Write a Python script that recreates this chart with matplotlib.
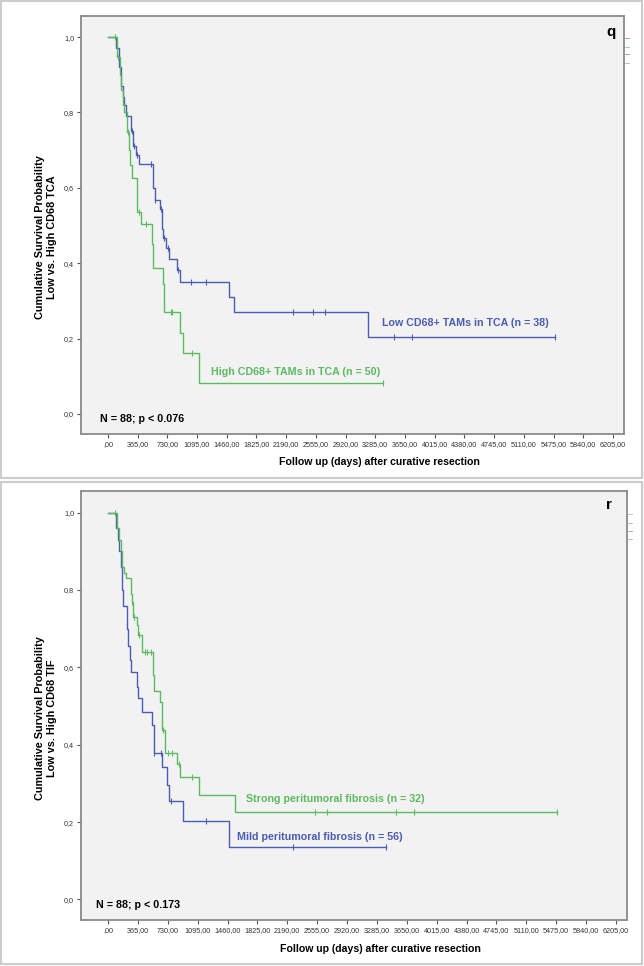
# Kaplan-Meier curves for CD68+ TAMs (TCA) and peritumoral fibrosis (TIF)

import numpy as np
import matplotlib.pyplot as plt
from matplotlib.patches import Rectangle
from matplotlib.lines import Line2D

plt.rcParams['font.family'] = ['Liberation Sans', 'DejaVu Sans']

BLUE = '#4a5cb3'
GREEN = '#5cba60'

# x axis ticks (days) and their SPSS style labels
day_ticks = [0, 365, 730, 1095, 1460, 1825, 2190, 2555, 2920, 3285, 3650,
             4015, 4380, 4745, 5110, 5475, 5840, 6205]
day_labels = [',00'] + ['%d,00' % d for d in day_ticks[1:]]
surv_ticks = [0.0, 0.2, 0.4, 0.6, 0.8, 1.0]
surv_labels = ['0,0', '0,2', '0,4', '0,6', '0,8', '1,0']

# panel q: low vs high CD68+ TAMs in TCA
tca_low_t = [0, 94, 139, 160, 180, 197, 221, 290, 311, 345, 380, 557, 574,
             640, 665, 676, 720, 745, 850, 880, 1487, 1553, 3191]
tca_low_s = [1.0, 0.97, 0.92, 0.87, 0.84, 0.82, 0.79, 0.75, 0.71, 0.687, 0.663,
             0.60, 0.569, 0.543, 0.49, 0.466, 0.44, 0.41, 0.382, 0.349, 0.311,
             0.271, 0.205]
tca_low_cens = [299, 320, 352, 525, 578, 648, 684, 741, 864, 1020, 1200,
                2270, 2523, 2670, 3515, 3740, 5498]

tca_high_t = [0, 115, 150, 165, 185, 200, 235, 260, 275, 291, 352, 362, 402,
              540, 549, 555, 672, 692, 885, 917, 1123]
tca_high_s = [1.0, 0.947, 0.90, 0.86, 0.82, 0.80, 0.747, 0.70, 0.66, 0.626,
              0.56, 0.537, 0.504, 0.45, 0.427, 0.388, 0.346, 0.271, 0.216,
              0.163, 0.082]
tca_high_cens = [86, 127, 242, 381, 467, 775, 790, 1036, 3384]

# panel r: mild vs strong peritumoral fibrosis
tif_mild_t = [0, 98, 126, 138, 155, 167, 179, 228, 244, 269, 281, 358, 370,
              411, 541, 562, 655, 716, 749, 920, 1481]
tif_mild_s = [1.0, 0.96, 0.93, 0.90, 0.86, 0.80, 0.76, 0.70, 0.655, 0.62,
              0.589, 0.55, 0.52, 0.485, 0.45, 0.38, 0.343, 0.295, 0.255, 0.203,
              0.135]
tif_mild_cens = [566, 648, 765, 1193, 2263, 3390]

tif_strong_t = [0, 114, 138, 155, 171, 195, 220, 281, 290, 309, 350, 370, 411,
                545, 566, 640, 660, 696, 846, 883, 1115, 1551]
tif_strong_s = [1.0, 0.96, 0.93, 0.90, 0.86, 0.845, 0.83, 0.79, 0.77, 0.73,
                0.71, 0.685, 0.64, 0.58, 0.54, 0.511, 0.438, 0.38, 0.351,
                0.317, 0.27, 0.225]
tif_strong_cens = [85, 297, 322, 383, 455, 476, 521, 675, 736, 777, 867, 1022,
                   2527, 2678, 3516, 3744, 5490]


def km_line(ax, t, s, cens, color):
    end = max(cens)
    ax.step(list(t) + [end], list(s) + [s[-1]], where='post', color=color, lw=1.0)
    idx = np.searchsorted(t, cens, side='right') - 1
    ax.plot(cens, np.array(s)[idx], ls='none', marker='|', ms=5, mew=0.8,
            color=color)


def style_axis(ax, ylabel):
    ax.set_facecolor('#f2f2f2')
    ax.set_xlim(-330, 6340)
    ax.set_ylim(-0.053, 1.056)
    ax.set_xticks(day_ticks)
    ax.set_xticklabels(day_labels)
    ax.set_yticks(surv_ticks)
    ax.set_yticklabels(surv_labels)
    for sp in ax.spines.values():
        sp.set_color('#8a8a8a')
        sp.set_linewidth(1.3)
    ax.tick_params(direction='out', length=3, width=0.8, color='#555555',
                   labelsize=5.2, labelcolor='#333333', pad=2)
    ax.text(-0.064, 0.471, ylabel, rotation=90, ha='center', va='center',
            multialignment='center', linespacing=1.2, fontsize=7.8,
            fontweight='bold', transform=ax.transAxes)
    ax.text(0.549, -0.067, 'Follow up (days) after curative resection',
            ha='center', va='center', fontsize=7.6, fontweight='bold',
            transform=ax.transAxes)


fig = plt.figure(figsize=(6.44, 9.66), dpi=100, facecolor='white')

# outer panel frames
fig.add_artist(Rectangle((1 / 644, 1 - 478 / 966), 641 / 644, 477 / 966,
                         transform=fig.transFigure, fill=False,
                         edgecolor='#cccccc', lw=1.5))
fig.add_artist(Rectangle((1 / 644, 1 - 964 / 966), 641 / 644, 482 / 966,
                         transform=fig.transFigure, fill=False,
                         edgecolor='#cccccc', lw=1.5))

ax1 = fig.add_axes([81 / 644, 1 - 434 / 966, 543 / 644, 418 / 966])
ax2 = fig.add_axes([81 / 644, 1 - 920 / 966, 546 / 644, 429 / 966])

km_line(ax1, tca_low_t, tca_low_s, tca_low_cens, BLUE)
km_line(ax1, tca_high_t, tca_high_s, tca_high_cens, GREEN)
style_axis(ax1, 'Cumulative Survival Probability\nLow vs. High CD68 TCA')
ax1.text(3371, 0.242, 'Low CD68+ TAMs in TCA (n = 38)', color=BLUE,
         fontsize=7.7, fontweight='bold', va='center')
ax1.text(1262, 0.112, 'High CD68+ TAMs in TCA (n = 50)', color=GREEN,
         fontsize=7.7, fontweight='bold', va='center')
ax1.text(-98, -0.013, 'N = 88; p < 0.076', fontsize=7.7, fontweight='bold',
         va='center')
ax1.text(6182, 1.014, 'q', fontsize=11, fontweight='bold', ha='center',
         va='center')

km_line(ax2, tif_mild_t, tif_mild_s, tif_mild_cens, BLUE)
km_line(ax2, tif_strong_t, tif_strong_s, tif_strong_cens, GREEN)
style_axis(ax2, 'Cumulative Survival Probability\nLow vs. High CD68 TIF')
ax2.text(1685, 0.261, 'Strong peritumoral fibrosis (n = 32)', color=GREEN,
         fontsize=7.7, fontweight='bold', va='center')
ax2.text(1571, 0.161, 'Mild peritumoral fibrosis (n = 56)', color=BLUE,
         fontsize=7.7, fontweight='bold', va='center')
ax2.text(-150, -0.013, 'N = 88; p < 0.173', fontsize=7.7, fontweight='bold',
         va='center')
ax2.text(6121, 1.02, 'r', fontsize=11, fontweight='bold', ha='center',
         va='center')

# small legend stubs to the right of each frame
for x0, ys, cols in [(625, [38, 47, 54, 63], [BLUE, GREEN, BLUE, GREEN]),
                     (628, [514, 523, 531, 539], ['#999999', GREEN, '#777777', GREEN])]:
    for y, c in zip(ys, cols):
        fig.add_artist(Line2D([x0 / 644, (x0 + 4) / 644], [1 - y / 966] * 2,
                              color=c, lw=0.6, alpha=0.7))

fig.savefig('out.png', dpi=100, facecolor='white')
